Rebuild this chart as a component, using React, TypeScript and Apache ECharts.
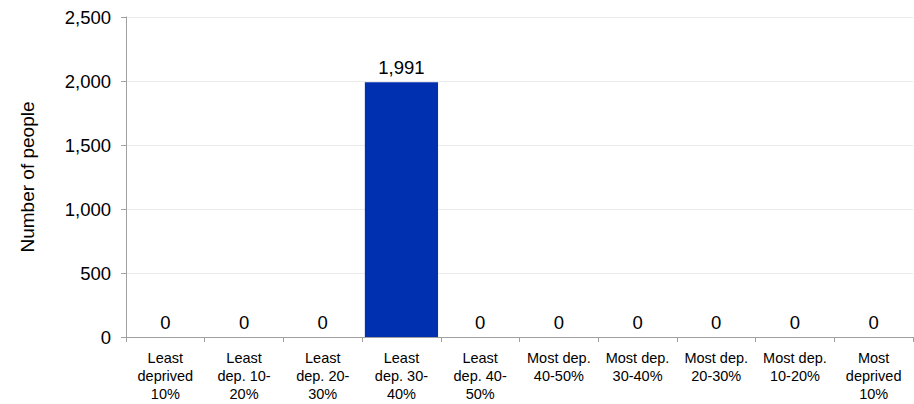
import React, { useEffect, useRef } from "react";
import * as echarts from "echarts";

const categories = [
  "Least\ndeprived\n10%",
  "Least\ndep. 10-\n20%",
  "Least\ndep. 20-\n30%",
  "Least\ndep. 30-\n40%",
  "Least\ndep. 40-\n50%",
  "Most dep.\n40-50%",
  "Most dep.\n30-40%",
  "Most dep.\n20-30%",
  "Most dep.\n10-20%",
  "Most\ndeprived\n10%",
];
const values = [0, 0, 0, 1991, 0, 0, 0, 0, 0, 0];
const yTicks = { min: 0, max: 2500, interval: 500 };

export default function App() {
  const ref = useRef<HTMLDivElement>(null);
  useEffect(() => {
    if (!ref.current) return;
    const chart = echarts.init(ref.current, null, { renderer: "svg" });
    const font = "Liberation Sans, Arial, Helvetica, sans-serif";
    chart.setOption({
      animation: false,
      textStyle: { fontFamily: font },
      grid: { left: 126, right: 1, top: 17, bottom: 67, containLabel: false },
      xAxis: {
        type: "category",
        data: categories,
        axisLine: { lineStyle: { color: "#a0a0a0", width: 1 } },
        axisTick: { show: true, length: 5, lineStyle: { color: "#a0a0a0" } },
        axisLabel: {
          color: "#000",
          fontSize: 14.5,
          lineHeight: 18,
          margin: 12,
          interval: 0,
          fontFamily: font,
        },
      },
      yAxis: {
        type: "value",
        min: yTicks.min,
        max: yTicks.max,
        interval: yTicks.interval,
        name: "Number of people",
        nameLocation: "middle",
        nameGap: 89,
        nameTextStyle: { color: "#000", fontSize: 19, fontFamily: font },
        axisLine: { show: true, lineStyle: { color: "#a0a0a0", width: 1 } },
        axisTick: { show: true, length: 5, lineStyle: { color: "#a0a0a0" } },
        axisLabel: {
          color: "#000",
          fontSize: 18.5,
          margin: 15,
          fontFamily: font,
          formatter: (v: number) => v.toLocaleString("en-US"),
        },
        splitLine: { lineStyle: { color: "#ebebeb", width: 1 } },
      },
      series: [
        {
          type: "bar",
          data: values,
          barCategoryGap: "7%",
          itemStyle: { color: "#0030b0" },
          label: {
            show: true,
            position: "top",
            distance: 5,
            color: "#000",
            fontSize: 18.5,
            fontFamily: font,
            formatter: (p: any) => Number(p.value).toLocaleString("en-US"),
          },
        },
      ],
    });
    return () => chart.dispose();
  }, []);
  return (
    <div
      ref={ref}
      style={{ position: "absolute", left: 0, top: 0, width: 914, height: 404, background: "#fff" }}
    />
  );
}
